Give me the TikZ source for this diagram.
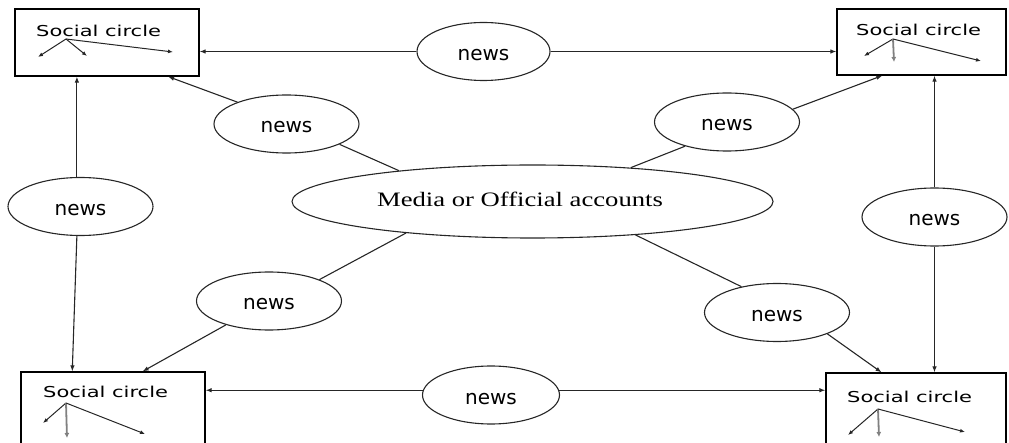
\documentclass[tikz,border=0pt]{standalone}
\usepackage{fontspec}
\usetikzlibrary{arrows.meta,calc,shapes.geometric}
\newfontfamily\socialfont[FakeStretch=1.4]{DejaVu Sans}
\newfontfamily\newsfont{DejaVu Sans}
\newfontfamily\mediafont[FakeStretch=1.3]{Liberation Serif}
\begin{document}
\begin{tikzpicture}[x=1pt,y=-1pt,
  box/.style={draw=black, line width=1.2pt, rectangle, inner sep=0pt},
  oval/.style={draw=black!85, line width=1.1pt, ellipse, inner sep=0pt},
  newsnode/.style={oval, minimum width=145pt, minimum height=58pt, text height=18pt, text depth=0pt, font=\newsfont\fontsize{20}{24}\selectfont},
  link/.style={draw=black!85, line width=1.1pt},
  arr/.style={link, -{Latex[length=6pt,width=4.5pt]}},
  sub/.style={draw=black!85, line width=1pt, -{Latex[length=5pt,width=4pt]}},
  subdown/.style={draw=black!50, line width=1.8pt, -{Latex[length=5pt,width=5pt]}},
  lbl/.style={font=\socialfont\fontsize{15}{18}\selectfont, anchor=base west, inner sep=0pt}]
\useasboundingbox (0,0) rectangle (1009,443);

% boxes
\node[box, minimum width=184pt, minimum height=67pt] (tl) at (107,42.5) {};
\node[box, minimum width=169pt, minimum height=66pt] (tr) at (921.5,42) {};
\node[box, minimum width=184pt, minimum height=80pt] (bl) at (113,412) {};
\node[box, minimum width=180pt, minimum height=80pt] (br) at (916,413) {};

\node[lbl] (tlt) at (36,36.5) {Social circle};
\node[lbl] (trt) at (856,36) {Social circle};
\node[lbl] (blt) at (43,397) {Social circle};
\node[lbl] (brt) at (847,402) {Social circle};

% central ellipse
\node[oval, minimum width=481pt, minimum height=73pt] (media) at (532.5,201.5) {};
\node[font=\mediafont\fontsize{20.5}{24}\selectfont, anchor=base, inner sep=0pt] (mediat) at (520,206.5) {Media or Official accounts};

% news ellipses
\node[newsnode, minimum width=133pt] (tn) at (483.5,51.5) {news};
\node[newsnode, minimum width=137pt] (bn) at (491,395) {news};
\node[newsnode] (ln) at (80.5,206.5) {news};
\node[newsnode] (rn) at (934.5,217) {news};
\node[newsnode] (n1) at (286.5,124) {news};
\node[newsnode] (n2) at (727,122) {news};
\node[newsnode] (n3) at (269,301) {news};
\node[newsnode] (n4) at (777,312.5) {news};

% horizontal connectors
\draw[arr] (tn.west) -- (tn.west -| tl.east);
\draw[arr] (tn.east) -- (tn.east -| tr.west);
\draw[arr] (bn.176) -- (bn.176 -| bl.east);
\draw[arr] (bn.4) -- (bn.4 -| br.west);

% vertical connectors
\draw[arr] (ln.97) -- (ln.97 |- tl.south);
\draw[arr] (ln.263) -- ($(bl.north west)!0.28!(bl.north east)$);
\draw[arr] (rn.north) -- (rn.north |- tr.south);
\draw[arr] (rn.south) -- (rn.south |- br.north);

% diagonal connectors
\draw[link] (media.167) -- (n1.-21.4);
\draw[arr] (n1.156) -- ($(tl.south west)!0.83!(tl.south east)$);
\draw[link] (media.19) -- (n2.210.8);
\draw[arr] (n2.11.3) -- ($(tr.south west)!0.27!(tr.south east)$);
\draw[link] (media.194) -- (n3.23.2);
\draw[arr] (n3.209.7) -- ($(bl.north west)!0.66!(bl.north east)$);
\draw[link] (media.-18.5) -- (n4.144);
\draw[arr] (n4.-23.3) -- ($(br.north west)!0.31!(br.north east)$);

% inner arrows
\coordinate (tlo) at (66,39);
\coordinate (tla) at (38,57);
\coordinate (tlb) at (87,56);
\coordinate (tlc) at (173,52);
\draw[sub] (tlo) -- (tla);
\draw[sub] (tlo) -- (tlb);
\draw[sub] (tlo) -- (tlc);

\coordinate (tro) at (893,39);
\coordinate (tra) at (864,56);
\coordinate (trb) at (894,62);
\coordinate (trc) at (981,61);
\draw[sub] (tro) -- (tra);
\draw[subdown] (tro) -- (trb);
\draw[sub] (tro) -- (trc);

\coordinate (blo) at (66,403);
\coordinate (bla) at (43,423);
\coordinate (blb) at (67,438);
\coordinate (blc) at (145,434);
\draw[sub] (blo) -- (bla);
\draw[subdown] (blo) -- (blb);
\draw[sub] (blo) -- (blc);

\coordinate (bro) at (878,409);
\coordinate (bra) at (848,435);
\coordinate (brb) at (879,437);
\coordinate (brc) at (965,432);
\draw[sub] (bro) -- (bra);
\draw[subdown] (bro) -- (brb);
\draw[sub] (bro) -- (brc);
\end{tikzpicture}
\end{document}
